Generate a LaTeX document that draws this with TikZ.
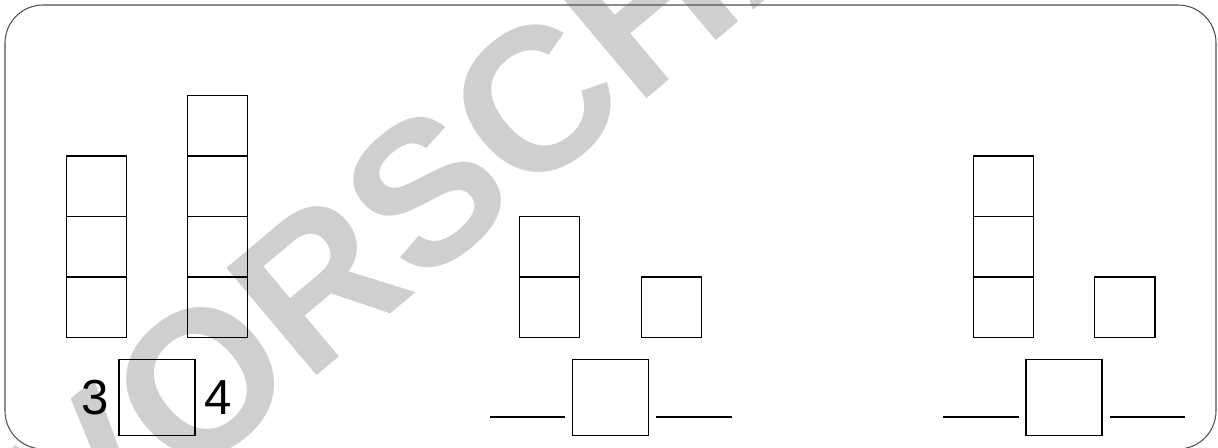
\documentclass[tikz,border=0pt]{standalone}
\usepackage{fontspec}
\setmainfont{Liberation Sans}
\usepackage{xcolor}
\usepackage{tikz}
\usetikzlibrary{positioning}
\definecolor{FrameGray}{HTML}{505050}
\definecolor{MarkGray}{HTML}{CFCFCF}

\begin{document}
\begin{tikzpicture}[x=0.02cm,y=-0.02cm,
  cell/.style={draw,line width=0.85pt,minimum size=1.21cm,inner sep=0pt,outer sep=0pt},
  answer/.style={draw,line width=0.85pt,minimum size=1.52cm,inner sep=0pt,outer sep=0pt},
  digit/.style={font=\fontsize{28}{30}\selectfont,inner sep=1pt},
  blank/.style={line width=0.9pt}]
  \useasboundingbox (0,0) rectangle (1218,447);
  % watermark
  \node[rotate=40,text=MarkGray,font=\fontsize{116}{120}\selectfont\bfseries] (mark) at (483,145) {VORSCHAU};
  % frame
  \draw[FrameGray,line width=0.6pt,rounded corners=0.76cm] (5,5) rectangle (1216,449);
  % first task: 3 and 4
  \node[cell] (a1) at (96.5,307) {};
  \foreach \i [count=\j from 2] in {1,2}
    \node[cell,above=0pt of a\i] (a\j) {};
  \node[cell] (b1) at (217.5,307) {};
  \foreach \i [count=\j from 2] in {1,2,3}
    \node[cell,above=0pt of b\i] (b\j) {};
  \node[answer] (ans1) at (157,397.5) {};
  \node[digit,left=0.17cm of ans1] (three) {3};
  \node[digit,right=0.15cm of ans1] (four) {4};
  % second task
  \node[cell] (c1) at (549.5,307) {};
  \node[cell,above=0pt of c1] (c2) {};
  \node[cell] (d1) at (671.5,307) {};
  \node[answer] (ans2) at (610.5,397.5) {};
  \draw[blank] (490,417) -- (565,417);
  \draw[blank] (656,417) -- (732,417);
  % third task
  \node[cell] (e1) at (1003.5,307) {};
  \foreach \i [count=\j from 2] in {1,2}
    \node[cell,above=0pt of e\i] (e\j) {};
  \node[cell] (f1) at (1124.5,307) {};
  \node[answer] (ans3) at (1064,397.5) {};
  \draw[blank] (943,417) -- (1019,417);
  \draw[blank] (1110,417) -- (1185,417);
\end{tikzpicture}
\end{document}
